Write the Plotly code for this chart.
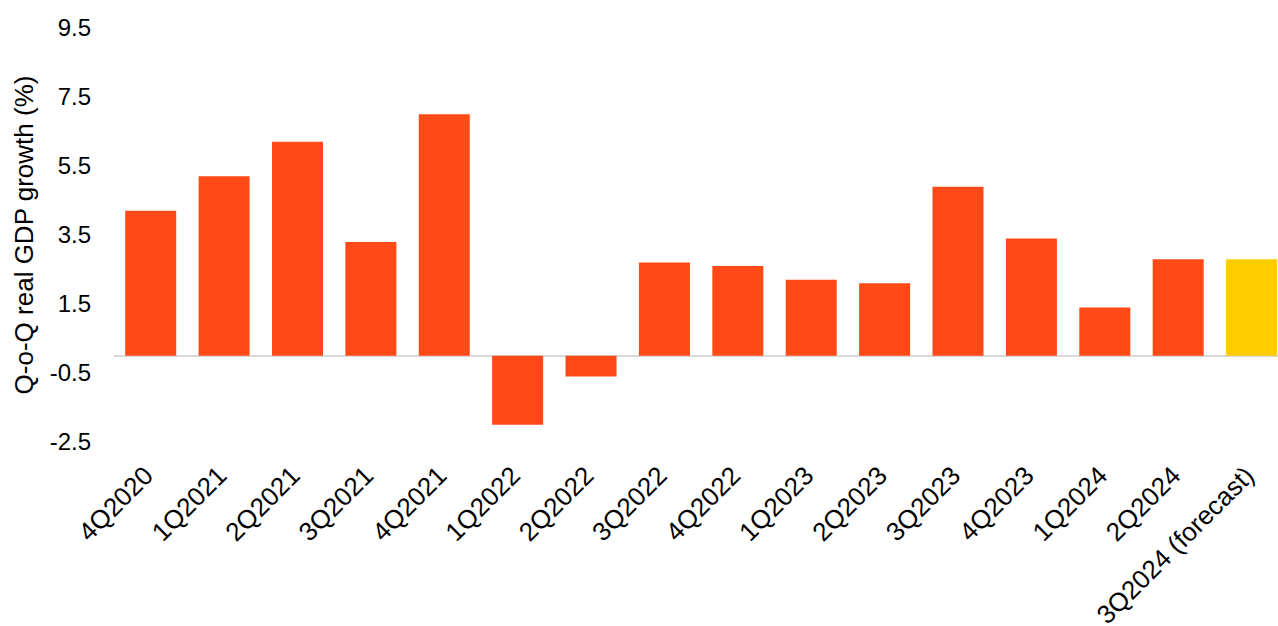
import plotly.graph_objects as go

categories = ["4Q2020", "1Q2021", "2Q2021", "3Q2021", "4Q2021", "1Q2022", "2Q2022",
              "3Q2022", "4Q2022", "1Q2023", "2Q2023", "3Q2023", "4Q2023", "1Q2024",
              "2Q2024", "3Q2024 (forecast)"]
growth = [4.2, 5.2, 6.2, 3.3, 7.0, -2.0, -0.6, 2.7, 2.6, 2.2, 2.1, 4.9, 3.4, 1.4, 2.8, 2.8]
is_forecast = [False] * 15 + [True]
y_ticks = [-2.5, -0.5, 1.5, 3.5, 5.5, 7.5, 9.5]

ACTUAL = "#FF4A17"
FORECAST = "#FFCC00"
colors = [FORECAST if f else ACTUAL for f in is_forecast]

fig = go.Figure(go.Bar(
    x=categories, y=growth,
    marker=dict(color=colors, line=dict(width=0)),
))

fig.update_layout(
    width=1278, height=626,
    margin=dict(l=114, r=0, t=28, b=184),
    paper_bgcolor="white", plot_bgcolor="white",
    bargap=0.305,
    showlegend=False,
    font=dict(family="Liberation Sans, Arial, sans-serif", size=24, color="black"),
)
fig.update_xaxes(
    range=[-0.5, 15.36], tickangle=-45, showgrid=False, showline=False,
    tickvals=categories, ticktext=[c + "\u00a0" for c in categories],
    ticks="", ticklabelstandoff=7, tickfont=dict(size=26), automargin=False,
)
fig.update_yaxes(
    range=[-2.5, 9.5], tickvals=y_ticks, ticktext=[str(v) for v in y_ticks],
    showgrid=False, zeroline=True, zerolinecolor="#D9D9D9", zerolinewidth=2,
    showline=False, ticks="", ticklabelstandoff=22, tickfont=dict(size=24),
    automargin=False,
    title=dict(text="Q-o-Q real GDP growth (%)", font=dict(size=26), standoff=8),
)

fig.write_html("out.html")
